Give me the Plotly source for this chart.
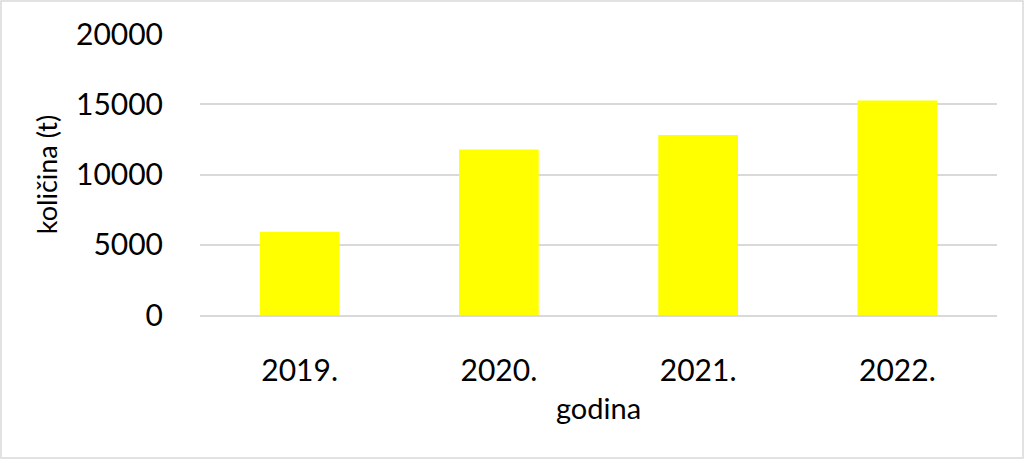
import plotly.graph_objects as go

years = ["2019.", "2020.", "2021.", "2022."]
values = [5930, 11780, 12820, 15260]
y_ticks = [0, 5000, 10000, 15000, 20000]

fig = go.Figure(go.Bar(x=years, y=values, marker=dict(color="#FFFF00", line=dict(width=0))))

FONT = "Lato, Open Sans, sans-serif"
L, R, T, B = 200, 27, 34, 144
W, H = 1024, 459
pw, ph = W - L - R, H - T - B

fig.update_layout(
    width=W, height=H,
    margin=dict(l=L, r=R, t=T, b=B),
    paper_bgcolor="white", plot_bgcolor="white",
    bargap=0.6,
    showlegend=False,
    font=dict(family=FONT, color="#000000"),
)
fig.update_yaxes(
    range=[0, 20000], tickvals=y_ticks, ticktext=[str(v) for v in y_ticks],
    showgrid=True, gridcolor="#D9D9D9", gridwidth=1.5,
    zeroline=False, showline=False,
    ticks="outside", ticklen=30, tickcolor="rgba(0,0,0,0)",
    tickfont=dict(size=30, family=FONT),
    title=dict(text="količina (t)", font=dict(size=27, family=FONT), standoff=10),
)
fig.update_xaxes(
    showgrid=False, zeroline=False, showline=True, linecolor="#D9D9D9", linewidth=1.5,
    ticks="outside", ticklen=28, tickcolor="rgba(0,0,0,0)",
    tickfont=dict(size=30, family=FONT),
    title=dict(text="godina", font=dict(size=29, family=FONT), standoff=13),
)
# outer chart border
fig.add_shape(type="rect", xref="paper", yref="paper",
              x0=(-L + 1) / pw, x1=1 + (R - 1) / pw,
              y0=-(B - 1) / ph, y1=1 + (T - 1) / ph,
              line=dict(color="#D9D9D9", width=1.5), layer="below")

fig.write_html("out.html", config={"displayModeBar": False},
               post_script="document.body.style.margin='0';document.body.style.overflow='hidden';")
